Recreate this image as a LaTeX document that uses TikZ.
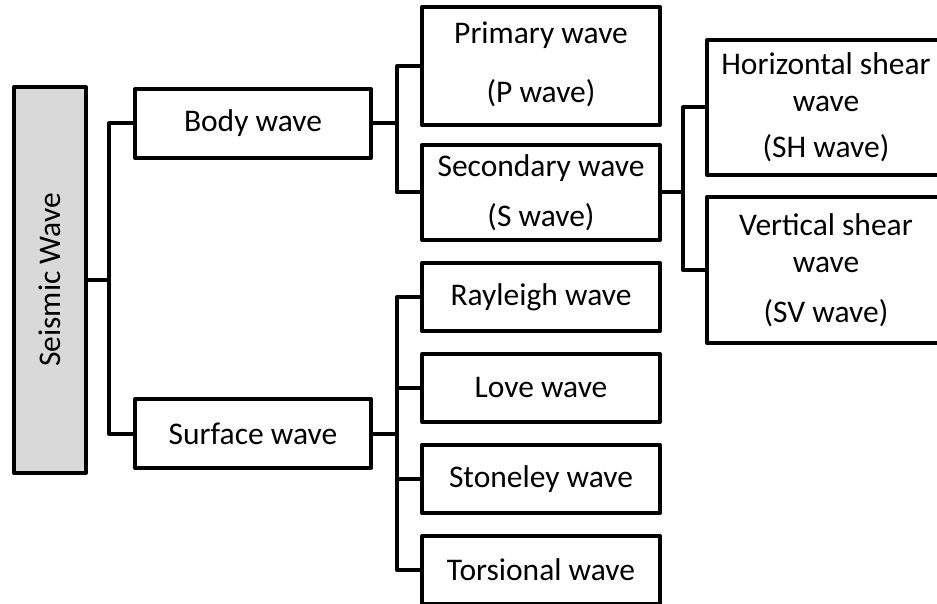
\documentclass[tikz,border=0pt]{standalone}
\usepackage{fontspec}
\setmainfont{Carlito}
\begin{document}
\begin{tikzpicture}[x=1pt,y=-1pt,
  box/.style={draw=black, line width=4pt, rectangle, inner sep=0pt,
    align=center, line join=round, fill=white,
    font=\fontsize{31.5}{37}\selectfont},
  link/.style={draw=black, line width=4pt, line join=round}]
\clip (0,0) rectangle (937,604);

% root
\node[box, fill=gray!30, minimum width=72pt, minimum height=386pt] (root) at (50,280)
  {\rotatebox{90}{Seismic Wave}};

% second level
\node[box, minimum width=236pt, minimum height=69pt] (body) at (253,123.5) {Body wave};
\node[box, minimum width=236pt, minimum height=69pt] (surface) at (253,433.5) {Surface wave};

% body waves
\node[box, align=none, minimum width=238pt, minimum height=118pt] (primary) at (541,66)
  {\raisebox{6pt}{\begin{tabular}{@{}c@{}}Primary wave\\[22pt](P wave)\end{tabular}}};
\node[box, minimum width=238pt, minimum height=95pt] (secondary) at (541,192.5)
  {Secondary wave\\[13pt](S wave)};

% shear waves
\node[box, minimum width=238pt, minimum height=135pt] (sh) at (826,107.5)
  {Horizontal shear\\wave\\[9pt](SH wave)};
\node[box, minimum width=238pt, minimum height=146pt] (sv) at (826,270)
  {Vertical shear\\wave\\[13pt](SV wave)};

% surface waves
\node[box, minimum width=238pt, minimum height=68pt] (rayleigh) at (541,297) {Rayleigh wave};
\node[box, minimum width=238pt, minimum height=68pt] (love) at (541,388) {Love wave};
\node[box, minimum width=238pt, minimum height=68pt] (stoneley) at (541,479) {Stoneley wave};
\node[box, minimum width=238pt, minimum height=68pt] (torsional) at (541,570) {Torsional wave};

% junctions
\coordinate (j1) at (109,280);
\coordinate (j2) at (397,123.5);
\coordinate (j3) at (683,192.5);
\coordinate (j4) at (397,433.5);

% connectors
\draw[link] (root.east) -- (j1);
\draw[link] (j1) |- (body.west);
\draw[link] (j1) |- (surface.west);

\draw[link] (body.east) -- (j2);
\draw[link] (j2) |- (primary.west);
\draw[link] (j2) |- (secondary.west);

\draw[link] (secondary.east) -- (j3);
\draw[link] (j3) |- (sh.west);
\draw[link] (j3) |- (sv.west);

\draw[link] (surface.east) -- (j4);
\draw[link] (j4) |- (rayleigh.west);
\draw[link] (j4) |- (love.west);
\draw[link] (j4) |- (stoneley.west);
\draw[link] (j4) |- (torsional.west);
\end{tikzpicture}
\end{document}
